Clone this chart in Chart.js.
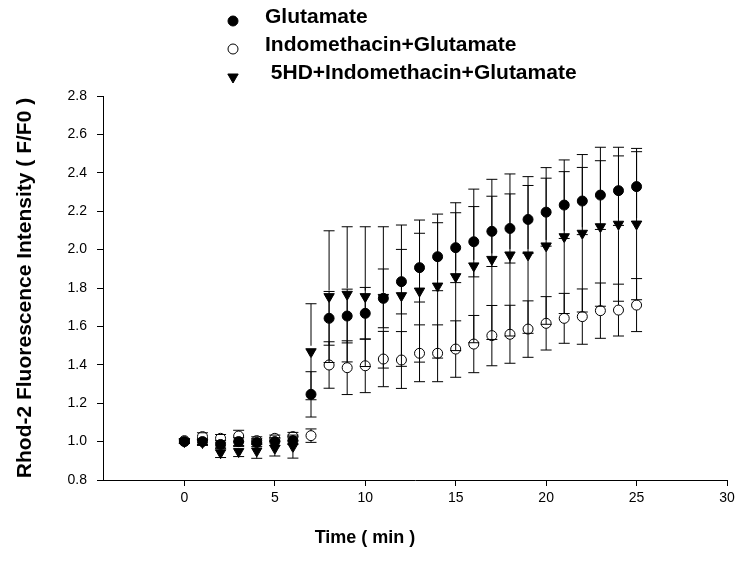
<!DOCTYPE html>
<html lang="en">
<head>
  <meta charset="UTF-8">
  <title>Rhod-2 Fluorescence Intensity</title>
  <script src="https://cdn.jsdelivr.net/npm/chart.js"></script>
  <style>
    html, body {
      margin: 0;
      padding: 0;
      background: #fff;
    }
  </style>
</head>
<body>
  <canvas id="rhodChart" width="739" height="562"></canvas>

  <script>
    // time points (min)
    const times = [0, 1, 2, 3, 4, 5, 6, 7, 8, 9, 10, 11, 12, 13, 14, 15, 16, 17, 18, 19, 20, 21, 22, 23, 24, 25];

    const seriesNames = ['Glutamate', 'Indomethacin+Glutamate', ' 5HD+Indomethacin+Glutamate'];

    // F/F0 means
    const glutamate = [1.00, 1.00, 0.985, 1.00, 0.995, 1.00, 1.005, 1.246, 1.642, 1.654, 1.668, 1.746, 1.833, 1.906, 1.963, 2.01, 2.041, 2.095, 2.11, 2.157, 2.195, 2.232, 2.253, 2.284, 2.307, 2.328];
    const glutamateErr = [0.01, 0.015, 0.02, 0.02, 0.02, 0.02, 0.02, 0.118, 0.14, 0.14, 0.135, 0.153, 0.168, 0.179, 0.177, 0.182, 0.183, 0.183, 0.18, 0.177, 0.177, 0.174, 0.175, 0.179, 0.181, 0.182];

    const indoGlu = [1.005, 1.026, 1.017, 1.029, 1.005, 1.017, 1.026, 1.031, 1.399, 1.385, 1.395, 1.43, 1.425, 1.46, 1.46, 1.482, 1.508, 1.552, 1.559, 1.586, 1.616, 1.642, 1.651, 1.682, 1.685, 1.711];
    const indoGluErr = [0.01, 0.02, 0.02, 0.03, 0.02, 0.017, 0.022, 0.035, 0.121, 0.14, 0.14, 0.144, 0.148, 0.148, 0.148, 0.147, 0.149, 0.157, 0.151, 0.147, 0.139, 0.13, 0.144, 0.144, 0.135, 0.138];

    const hdIndoGlu = [1.0, 0.995, 0.942, 0.948, 0.951, 0.965, 0.974, 1.468, 1.755, 1.767, 1.755, 1.751, 1.76, 1.784, 1.81, 1.859, 1.915, 1.949, 1.972, 1.972, 2.019, 2.067, 2.085, 2.119, 2.132, 2.133];
    const hdIndoGluErr = [0.01, 0.015, 0.025, 0.026, 0.038, 0.04, 0.06, 0.25, 0.343, 0.352, 0.364, 0.368, 0.368, 0.37, 0.375, 0.385, 0.40, 0.417, 0.422, 0.408, 0.408, 0.40, 0.41, 0.414, 0.401, 0.394];

    const FONT = '"Liberation Sans", Arial, sans-serif';

    const toPoints = vals => times.map((t, i) => ({ x: t, y: vals[i] }));

    // symmetric SD bars, drawn through the y scale
    const errorBars = {
      id: 'errorBars',
      afterDatasetsDraw(chart) {
        const ctx = chart.ctx;
        const yScale = chart.scales.y;
        ctx.save();
        ctx.strokeStyle = '#000';
        ctx.lineWidth = 1;
        chart.data.datasets.forEach((ds, i) => {
          const meta = chart.getDatasetMeta(i);
          meta.data.forEach((pt, j) => {
            const v = ds.data[j].y;
            const e = ds.errors[j];
            const top = yScale.getPixelForValue(v + e);
            const bot = yScale.getPixelForValue(v - e);
            const gap = ds.pointRadius;
            ctx.beginPath();
            if (pt.y - gap > top) { ctx.moveTo(pt.x, top); ctx.lineTo(pt.x, pt.y - gap); }
            if (pt.y + gap < bot) { ctx.moveTo(pt.x, pt.y + gap); ctx.lineTo(pt.x, bot); }
            ctx.moveTo(pt.x - 5.5, top); ctx.lineTo(pt.x + 5.5, top);
            ctx.moveTo(pt.x - 5.5, bot); ctx.lineTo(pt.x + 5.5, bot);
            ctx.stroke();
          });
        });
        ctx.restore();
      }
    };

    // legend block + axis titles
    const annotations = {
      id: 'annotations',
      afterDraw(chart) {
        const ctx = chart.ctx;
        const area = chart.chartArea;
        ctx.save();

        chart.data.datasets.forEach((ds, i) => {
          const rowY = 17 + i * 28;
          ctx.fillStyle = ds.backgroundColor;
          ctx.strokeStyle = '#000';
          ctx.lineWidth = 1;
          Chart.helpers.drawPoint(ctx, {
            pointStyle: ds.pointStyle,
            radius: ds.pointStyle === 'triangle' ? 6 : 5,
            rotation: ds.pointRotation || 0,
            borderWidth: 1
          }, 233, rowY + 4);
          ctx.fillStyle = '#000';
          ctx.font = 'bold 21px ' + FONT;
          ctx.textAlign = 'left';
          ctx.textBaseline = 'middle';
          ctx.fillText(seriesNames[i], 265, rowY);
        });

        ctx.fillStyle = '#000';
        ctx.textAlign = 'center';
        ctx.textBaseline = 'middle';
        ctx.font = 'bold 18px ' + FONT;
        ctx.fillText('Time ( min )', 365, 538);

        ctx.font = 'bold 21px ' + FONT;
        ctx.translate(25, (area.top + area.bottom) / 2);
        ctx.rotate(-Math.PI / 2);
        ctx.fillText('Rhod-2 Fluorescence Intensity ( F/F0 )', 0, 0);
        ctx.restore();
      }
    };

    const ctx = document.getElementById('rhodChart').getContext('2d');
    new Chart(ctx, {
      type: 'scatter',
      data: {
        datasets: [
          {
            label: seriesNames[0],
            data: toPoints(glutamate),
            errors: glutamateErr,
            pointStyle: 'circle',
            pointRadius: 5,
            backgroundColor: '#000',
            borderColor: '#000',
            borderWidth: 1
          },
          {
            label: seriesNames[1],
            data: toPoints(indoGlu),
            errors: indoGluErr,
            pointStyle: 'circle',
            pointRadius: 5,
            backgroundColor: '#fff',
            borderColor: '#000',
            borderWidth: 1
          },
          {
            label: seriesNames[2],
            data: toPoints(hdIndoGlu),
            errors: hdIndoGluErr,
            pointStyle: 'triangle',
            pointRotation: 180,
            pointRadius: 6,
            backgroundColor: '#000',
            borderColor: '#000',
            borderWidth: 1
          }
        ]
      },
      options: {
        responsive: false,
        animation: false,
        clip: false,
        layout: { padding: { left: 0, top: 96, right: 12, bottom: 0 } },
        plugins: {
          legend: { display: false },
          tooltip: { enabled: false }
        },
        scales: {
          x: {
            type: 'linear',
            min: -4.5,
            max: 30,
            afterFit: scale => { scale.height = 82; },
            border: { display: true, color: '#000', width: 1 },
            grid: { drawOnChartArea: false, drawTicks: true, tickLength: 6, color: '#000' },
            ticks: {
              stepSize: 5,
              includeBounds: false,
              padding: 4,
              color: '#000',
              font: { family: FONT, size: 14 }
            }
          },
          y: {
            type: 'linear',
            min: 0.8,
            max: 2.8,
            afterFit: scale => { scale.width = 103; },
            border: { display: true, color: '#000', width: 1 },
            grid: { drawOnChartArea: false, drawTicks: true, tickLength: 6, color: '#000' },
            ticks: {
              stepSize: 0.2,
              padding: 10,
              color: '#000',
              font: { family: FONT, size: 14 },
              callback: v => Number(v).toFixed(1)
            }
          }
        }
      },
      plugins: [errorBars, annotations]
    });
  </script>
</body>
</html>
